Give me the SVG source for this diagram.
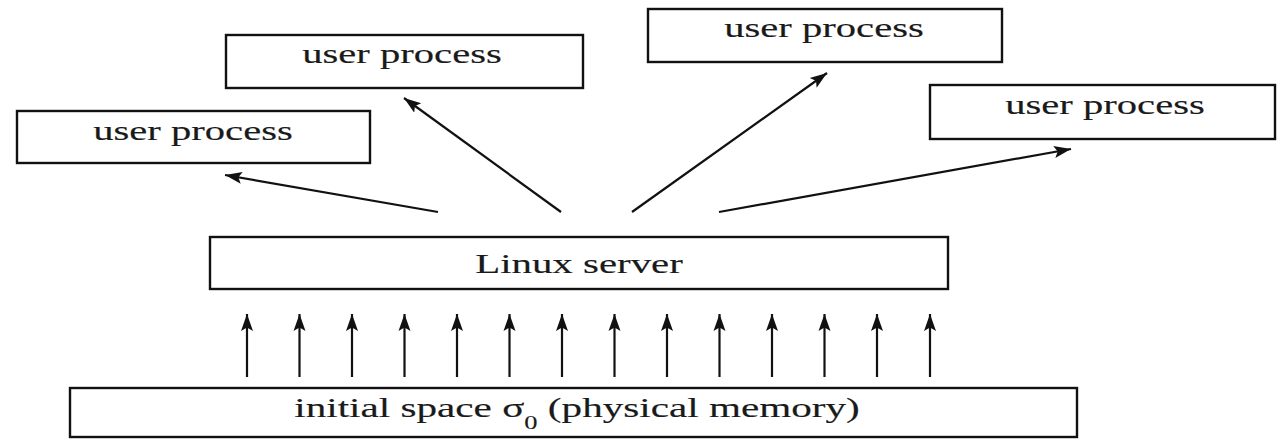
<svg xmlns="http://www.w3.org/2000/svg" width="1283" height="442" viewBox="0 0 1283 442">
<style>
.box{fill:#fff;stroke:#111;stroke-width:2.4}
.lbl{font-family:"Liberation Serif","Times New Roman",serif;font-size:28px;fill:#1a1a1a;stroke:#1a1a1a;stroke-width:0.15;text-anchor:middle}
.con{stroke:#111;stroke-width:2.2;fill:none;marker-end:url(#ah)}
</style>
<defs>
<marker id="ah" markerWidth="18" markerHeight="14" refX="17" refY="7" orient="auto" markerUnits="userSpaceOnUse">
<path d="M0,1 L17,7 L0,13 L3.5,7 Z" fill="#111"/>
</marker>
</defs>
<rect width="1283" height="442" fill="#fff"/>
<g id="up1"><rect class="box" x="17" y="111" width="353" height="52"/>
<g transform="translate(193,140) scale(1.45,1)"><text class="lbl" x="0" y="0">user process</text></g></g>
<g id="up2"><rect class="box" x="226" y="35" width="357" height="53"/>
<g transform="translate(402,63) scale(1.45,1)"><text class="lbl" x="0" y="0">user process</text></g></g>
<g id="up3"><rect class="box" x="648" y="9" width="354" height="53"/>
<g transform="translate(824,37) scale(1.45,1)"><text class="lbl" x="0" y="0">user process</text></g></g>
<g id="up4"><rect class="box" x="930" y="85" width="345" height="54"/>
<g transform="translate(1105,114) scale(1.45,1)"><text class="lbl" x="0" y="0">user process</text></g></g>
<g id="linux"><rect class="box" x="210" y="237" width="738" height="52"/>
<g transform="translate(579,273) scale(1.46,1)"><text class="lbl" x="0" y="0">Linux server</text></g></g>
<g id="initial"><rect class="box" x="70" y="388" width="1007" height="49"/>
<g transform="translate(577,417) scale(1.47,1)"><text class="lbl" x="0" y="0">initial space σ<tspan dy="12" font-size="18">0</tspan><tspan dy="-12"> (physical memory)</tspan></text></g></g>
<g id="connectors">
<line class="con" x1="438" y1="212" x2="225" y2="175"/>
<line class="con" x1="561" y1="212" x2="404" y2="98"/>
<line class="con" x1="632" y1="212" x2="827" y2="73"/>
<line class="con" x1="719" y1="212" x2="1071" y2="149"/>
<line class="con" x1="247" y1="377" x2="247" y2="314"/>
<line class="con" x1="299.5" y1="377" x2="299.5" y2="314"/>
<line class="con" x1="352" y1="377" x2="352" y2="314"/>
<line class="con" x1="404.5" y1="377" x2="404.5" y2="314"/>
<line class="con" x1="457" y1="377" x2="457" y2="314"/>
<line class="con" x1="509.5" y1="377" x2="509.5" y2="314"/>
<line class="con" x1="562" y1="377" x2="562" y2="314"/>
<line class="con" x1="614.5" y1="377" x2="614.5" y2="314"/>
<line class="con" x1="667" y1="377" x2="667" y2="314"/>
<line class="con" x1="719.5" y1="377" x2="719.5" y2="314"/>
<line class="con" x1="772" y1="377" x2="772" y2="314"/>
<line class="con" x1="824.5" y1="377" x2="824.5" y2="314"/>
<line class="con" x1="877" y1="377" x2="877" y2="314"/>
<line class="con" x1="930" y1="377" x2="930" y2="314"/>
</g>
</svg>
